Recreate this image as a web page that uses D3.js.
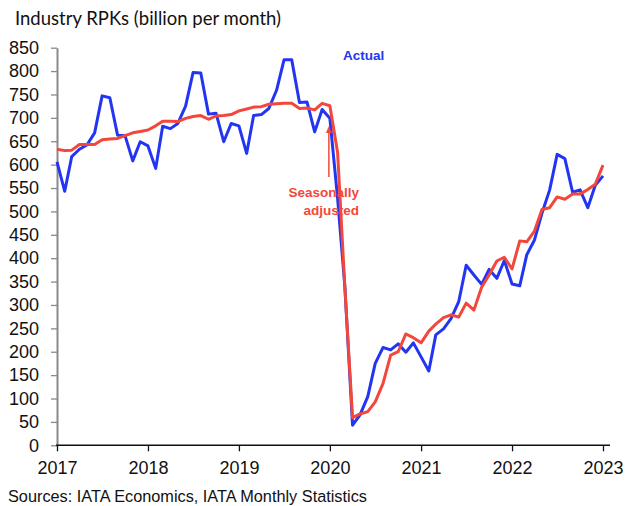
<!DOCTYPE html>
<html>
<head>
<meta charset="utf-8">
<script src="https://cdn.jsdelivr.net/npm/d3@7"></script>
<style>
  body { margin: 0; background: #fff; }
  svg text { font-family: "Liberation Sans", Arial, sans-serif; }
</style>
</head>
<body>
<div id="chart"></div>
<script>
// months Jan 2017 .. Jan 2023
var startMonth = "2017-01";
var yearTicks = [2017, 2018, 2019, 2020, 2021, 2022, 2023];
var yTicks = [0, 50, 100, 150, 200, 250, 300, 350, 400, 450, 500, 550, 600, 650, 700, 750, 800, 850];

// actual RPKs, billion per month
var actual = [
  606, 543, 617, 633, 642, 668, 747, 743, 663, 662, 608, 649,
  640, 592, 682, 677, 688, 725, 797, 796, 708, 710, 649, 688,
  683, 624, 705, 707, 720, 759, 824, 824, 733, 734, 670, 718,
  699, 528, 340, 43, 65, 104, 175, 209, 204, 217, 199, 219,
  189, 159, 236, 249, 271, 307, 385, 364, 344, 376, 357, 395,
  345, 341, 407, 439, 496, 546, 622, 613, 541, 546, 508, 556,
  576
];

// seasonally adjusted
var seasAdj = [
  633, 630, 631, 643, 643, 643, 653, 655, 656, 662, 668, 671,
  674, 683, 693, 693, 692, 699, 703, 705, 697, 704, 705, 707,
  715, 719, 723, 724, 729, 730, 731, 731, 720, 721, 717, 731,
  726, 626, 339, 59, 67, 72, 93, 132, 193, 200, 238, 230,
  219, 244, 259, 273, 279, 274, 304, 289, 338, 364, 394, 402,
  377, 437, 435, 458, 504, 508, 531, 526, 537, 537, 547, 558,
  599
];

var blue = "#2236f2";
var red = "#f2473a";

var svgWidth = 625;
var svgHeight = 506;

var x0 = 57, x1 = 603, y0 = 445.3, y1 = 47.7;

var parse = d3.timeParse("%Y-%m");
var months = d3.range(actual.length).map(i => d3.timeMonth.offset(parse(startMonth), i));

var svg = d3.select("#chart")
  .append("svg")
  .attr("width", svgWidth)
  .attr("height", svgHeight);

var xScale = d3.scaleTime()
  .domain([months[0], months[months.length - 1]])
  .range([x0, x1]);

var yScale = d3.scaleLinear()
  .domain([0, 850])
  .range([y0, y1]);

// y axis
var leftAxis = d3.axisLeft(yScale)
  .tickValues(yTicks)
  .tickSize(6)
  .tickPadding(12)
  .tickSizeOuter(0);

var yAxis = svg.append("g")
  .attr("transform", `translate(${x0}, 0)`)
  .call(leftAxis);
yAxis.select(".domain").attr("stroke", "#8a8a8a").attr("stroke-width", 2);
yAxis.selectAll(".tick line").attr("stroke", "#8a8a8a").attr("stroke-width", 1.3);
yAxis.selectAll(".tick text")
  .attr("fill", "#111")
  .style("font-size", "18px");

// x axis
var bottomAxis = d3.axisBottom(xScale)
  .tickValues(yearTicks.map(y => new Date(y, 0, 1)))
  .tickFormat(d3.timeFormat("%Y"))
  .tickSize(6)
  .tickPadding(10)
  .tickSizeOuter(0);

var xAxis = svg.append("g")
  .attr("transform", `translate(0, ${y0})`)
  .call(bottomAxis);
xAxis.select(".domain").remove();
xAxis.append("line")
  .attr("x1", x0 - 1)
  .attr("x2", 610)
  .attr("stroke", "#111")
  .attr("stroke-width", 1.5);
xAxis.selectAll(".tick line").attr("stroke", "#111").attr("stroke-width", 1.3);
xAxis.selectAll(".tick text")
  .attr("fill", "#111")
  .style("font-size", "18px");

// lines
var line = d3.line()
  .x((d, i) => xScale(months[i]))
  .y(d => yScale(d));

svg.append("path")
  .datum(actual)
  .attr("fill", "none")
  .attr("stroke", blue)
  .attr("stroke-width", 3)
  .attr("stroke-linejoin", "round")
  .attr("d", line);

svg.append("path")
  .datum(seasAdj)
  .attr("fill", "none")
  .attr("stroke", red)
  .attr("stroke-width", 3)
  .attr("stroke-linejoin", "round")
  .attr("d", line);

// annotations
svg.append("text")
  .attr("x", 343)
  .attr("y", 60)
  .attr("fill", blue)
  .style("font-size", "13.5px")
  .style("font-weight", "bold")
  .text("Actual");

var saLabel = svg.append("text")
  .attr("text-anchor", "end")
  .attr("fill", red)
  .style("font-size", "13.5px")
  .style("font-weight", "bold");
saLabel.append("tspan").attr("x", 359).attr("y", 197).text("Seasonally");
saLabel.append("tspan").attr("x", 359).attr("y", 215).text("adjusted");

// arrow pointing to the SA line
var arrowX = xScale(months[36]) - 1;
svg.append("line")
  .attr("x1", arrowX).attr("x2", arrowX)
  .attr("y1", 177).attr("y2", 132)
  .attr("stroke", red)
  .attr("stroke-width", 1.5);
svg.append("path")
  .attr("d", `M${arrowX - 3},${133} L${arrowX},${126} L${arrowX + 3},${133} Z`)
  .attr("fill", red);

// title and source
svg.append("text")
  .attr("x", 15)
  .attr("y", 25)
  .attr("fill", "#111")
  .style("font-family", "Lato, sans-serif")
  .style("font-size", "18.5px")
  .text("Industry RPKs (billion per month)");

svg.append("text")
  .attr("x", 8)
  .attr("y", 502)
  .attr("fill", "#111")
  .style("font-size", "16.3px")
  .text("Sources: IATA Economics, IATA Monthly Statistics");
</script>
</body>
</html>
